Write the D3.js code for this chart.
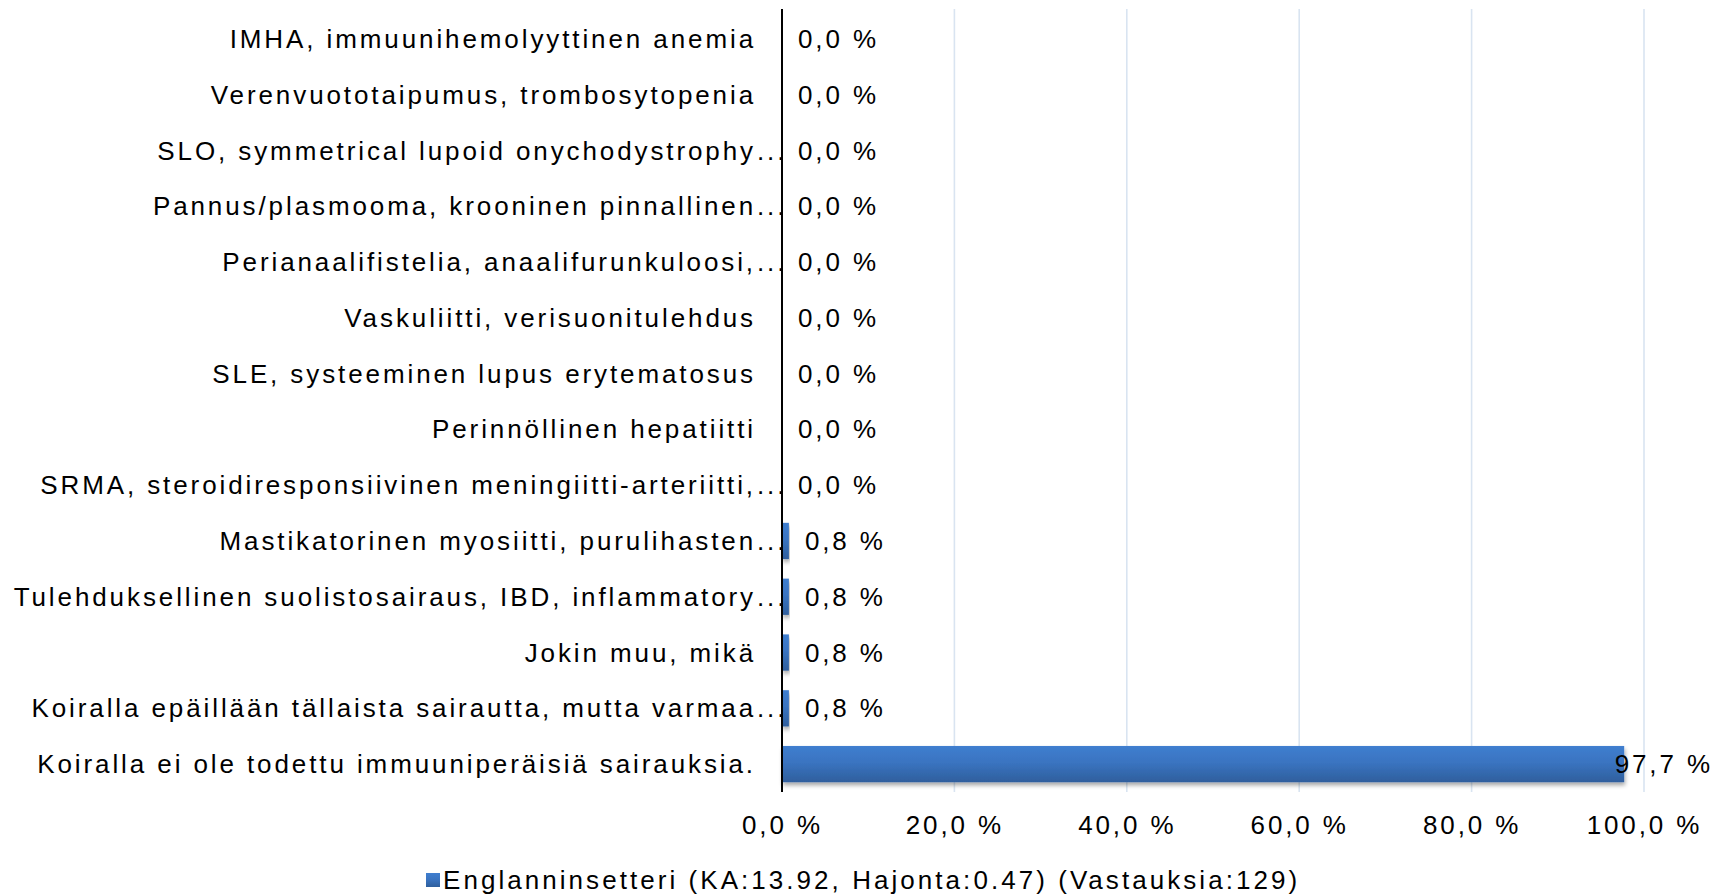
<!DOCTYPE html>
<html>
<head>
<meta charset="utf-8">
<script src="https://cdn.jsdelivr.net/npm/d3@7/dist/d3.min.js"></script>
<style>
  html, body { margin: 0; padding: 0; background: #fff; }
  svg text { font-family: "Liberation Sans", Arial, sans-serif; font-size: 26px; letter-spacing: 2.9px; fill: #000; }
  svg text.legend-text { letter-spacing: 3.05px; }
</style>
</head>
<body>
<svg id="chart" width="1729" height="894"></svg>
<script>
// Diagnoosit (kategoriat ylhäältä alas)
const categories = [
  "IMHA, immuunihemolyyttinen anemia",
  "Verenvuototaipumus, trombosytopenia",
  "SLO, symmetrical lupoid onychodystrophy...",
  "Pannus/plasmooma, krooninen pinnallinen...",
  "Perianaalifistelia, anaalifurunkuloosi,...",
  "Vaskuliitti, verisuonitulehdus",
  "SLE, systeeminen lupus erytematosus",
  "Perinnöllinen hepatiitti",
  "SRMA, steroidiresponsiivinen meningiitti-arteriitti,...",
  "Mastikatorinen myosiitti, purulihasten...",
  "Tulehduksellinen suolistosairaus, IBD, inflammatory...",
  "Jokin muu, mikä",
  "Koiralla epäillään tällaista sairautta, mutta varmaa...",
  "Koiralla ei ole todettu immuuniperäisiä sairauksia."
];
// Osuus vastaajista (%)
const values = [0.0, 0.0, 0.0, 0.0, 0.0, 0.0, 0.0, 0.0, 0.0, 0.8, 0.8, 0.8, 0.8, 97.7];
const xTicks = [0, 20, 40, 60, 80, 100];
const seriesName = "Englanninsetteri (KA:13.92, Hajonta:0.47) (Vastauksia:129)";

const svg = d3.select("#chart");
const plot = { left: 782, right: 1644, top: 11, bottom: 792 };

const x = d3.scaleLinear().domain([0, 100]).range([plot.left, plot.right]);
const y = d3.scaleBand().domain(categories).range([plot.top, plot.bottom])
  .paddingInner(0.35).paddingOuter(0.175);

const fmt = v => d3.format(".1f")(v).replace(".", ",") + " %";

const defs = svg.append("defs");
const grad = defs.append("linearGradient").attr("id", "barGrad")
  .attr("x1", 0).attr("y1", 0).attr("x2", 0).attr("y2", 1);
grad.append("stop").attr("offset", "0%").attr("stop-color", "#3f7ecf");
grad.append("stop").attr("offset", "45%").attr("stop-color", "#3a74c1");
grad.append("stop").attr("offset", "100%").attr("stop-color", "#2f5f9d");

const shadow = defs.append("filter").attr("id", "barShadow")
  .attr("x", "-5%").attr("y", "-20%").attr("width", "110%").attr("height", "160%");
shadow.append("feDropShadow").attr("dx", 1).attr("dy", 3)
  .attr("stdDeviation", 2).attr("flood-color", "#000").attr("flood-opacity", 0.35);

defs.append("clipPath").attr("id", "labelClip")
  .append("rect").attr("x", 0).attr("y", 0).attr("width", plot.left - 1).attr("height", 894);

// Pystysuorat apuviivat
svg.append("g").selectAll("line")
  .data(xTicks.filter(t => t > 0))
  .join("line")
  .attr("x1", d => x(d)).attr("x2", d => x(d))
  .attr("y1", plot.top - 2).attr("y2", plot.bottom)
  .attr("stroke", "#d9e4f1").attr("stroke-width", 1.6);

// X-akselin arvot
const xAxis = d3.axisBottom(x).tickValues(xTicks).tickFormat(fmt).tickSize(0).tickPadding(0);
const xg = svg.append("g").attr("transform", `translate(0,${plot.bottom})`).call(xAxis);
xg.select(".domain").remove();
xg.attr("font-size", null).attr("font-family", null);
xg.selectAll("text").attr("y", 33).attr("dy", "0.35em");

// Palkit
svg.append("g").selectAll("rect")
  .data(values.map((v, i) => ({ v, c: categories[i] })).filter(d => d.v > 0))
  .join("rect")
  .attr("x", x(0))
  .attr("y", d => y(d.c))
  .attr("width", d => x(d.v) - x(0))
  .attr("height", y.bandwidth())
  .attr("fill", "url(#barGrad)")
  .attr("filter", "url(#barShadow)");

// Kategorioiden nimet; katkaistun nimen pisteet jatkuvat akselille asti
const labelEnd = 756;
const lg = svg.append("g").attr("clip-path", "url(#labelClip)");
categories.forEach(c => {
  const cy = y(c) + y.bandwidth() / 2;
  const truncated = c.endsWith("...");
  const main = truncated ? c.slice(0, -3) : c;
  lg.append("text").attr("x", labelEnd).attr("y", cy).attr("dy", "0.35em")
    .attr("text-anchor", "end").text(main);
  if (truncated) {
    lg.append("text").attr("x", labelEnd + 1).attr("y", cy).attr("dy", "0.35em")
      .text("...");
  }
});

// Y-akselin viiva
svg.append("line")
  .attr("x1", plot.left).attr("x2", plot.left)
  .attr("y1", plot.top - 2).attr("y2", plot.bottom)
  .attr("stroke", "#000").attr("stroke-width", 2);

// Arvojen tekstit palkkien perässä
const maxRight = 1713;
categories.forEach((c, i) => {
  const cy = y(c) + y.bandwidth() / 2;
  const t = svg.append("text").attr("y", cy).attr("dy", "0.35em").text(fmt(values[i]));
  const w = t.node().getComputedTextLength();
  const px = Math.min(x(values[i]) + 16, maxRight - w);
  t.attr("x", px);
});

// Selite
const legend = svg.append("g").attr("transform", "translate(426,880)");
legend.append("rect").attr("x", 0).attr("y", -7).attr("width", 14).attr("height", 14)
  .attr("fill", "url(#barGrad)");
legend.append("text").attr("class", "legend-text").attr("x", 17).attr("y", 0)
  .attr("dy", "0.35em").text(seriesName);
</script>
</body>
</html>
